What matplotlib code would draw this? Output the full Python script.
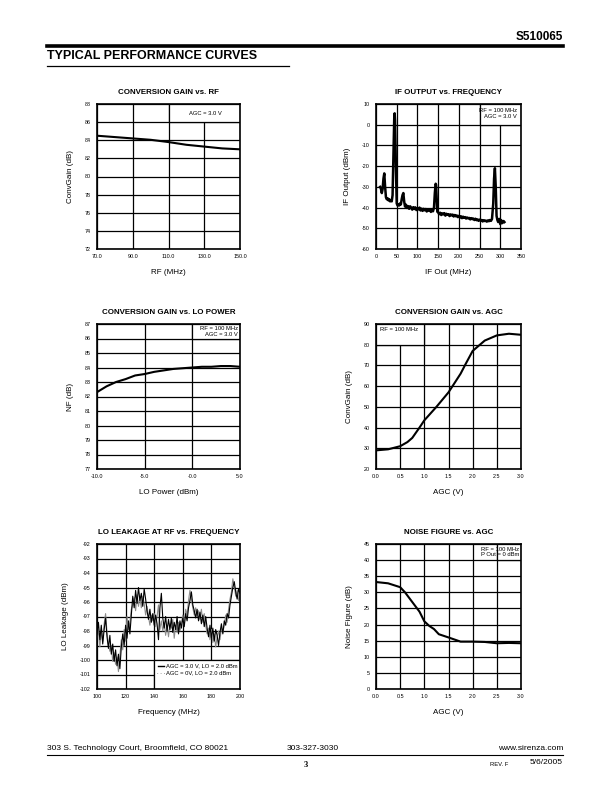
import matplotlib
matplotlib.use("Agg")
import matplotlib.pyplot as plt
import numpy as np
from matplotlib.patches import Rectangle
from matplotlib.lines import Line2D

plt.rcParams['font.family'] = ['Liberation Sans', 'DejaVu Sans']

# ---------------- data ----------------
# Chart 1: Conversion gain vs RF
rf_mhz = [70, 80, 90, 100, 110, 120, 130, 140, 150]
gain_rf = [84.5, 84.35, 84.2, 84.05, 83.8, 83.5, 83.3, 83.1, 83.0]

# Chart 2: IF output vs frequency (trace read in segments)
if_freq_a = [10, 12, 14, 16, 18, 20, 22, 24, 26, 28, 30, 32, 34, 36, 38, 40, 42, 44, 45, 46,
             48, 50, 52, 54, 56, 58, 60, 62, 64, 66, 68]
if_out_a = [-30, -31, -33, -31, -26, -23.5, -30, -35, -36, -35.5, -36.5, -36, -37, -36.5, -37, -34, -15, 3, 5.5, 2,
            -20, -38, -39, -38.5, -39, -38, -38.5, -36, -34, -33, -37]
if_freq_b = list(np.arange(70, 138, 2.5))
if_out_b = [-39.5, -38.6, -40.2, -39.3, -40.6, -39.4, -40.1, -41.0, -39.8, -40.7,
            -39.9, -41.2, -40.3, -40.9, -40.0, -41.4, -40.5, -41.6, -40.6, -41.3,
            -40.7, -41.9, -40.9, -41.5, -41.0, -42.1, -41.2, -41.8]
if_freq_c = [140, 142, 144, 145, 146, 148]
if_out_c = [-40, -33, -28.5, -29, -33, -42]
if_freq_d = list(np.arange(150, 281, 2.5))
if_out_d = [-42.3, -43.2, -42.5, -43.6, -42.8, -43.3, -42.7, -43.9, -43.0, -43.5,
            -43.2, -44.1, -43.3, -43.8, -43.4, -44.3, -43.6, -44.2, -43.8, -44.6,
            -44.0, -44.8, -44.2, -45.1, -44.4, -44.9, -44.6, -45.3, -44.8, -45.2,
            -45.0, -45.7, -45.1, -45.6, -45.3, -46.0, -45.4, -46.1, -45.7, -46.4,
            -45.8, -46.2, -46.0, -46.7, -46.1, -46.5, -46.3, -46.8, -46.2, -46.6,
            -46.0, -46.4, -45.5]
if_freq_e = [283, 285, 287, 289, 291, 293, 295, 298, 300, 302, 305, 308, 310]
if_out_e = [-38, -26, -21, -30, -44, -46, -47, -45.5, -48, -46, -47.5, -46.5, -47]

# Chart 3: Conversion gain vs LO power
lo_power = [-10, -9, -8, -7, -6, -5, -4, -3, -2, -1, 0, 1, 2, 3, 4, 5]
gain_lo = [82.3, 82.7, 83.0, 83.2, 83.45, 83.55, 83.7, 83.8, 83.9, 83.95, 84.0, 84.05, 84.05, 84.1, 84.1, 84.05]

# Chart 4: Conversion gain vs AGC
agc_v = [0.0, 0.25, 0.5, 0.65, 0.75, 0.9, 1.0, 1.25, 1.5, 1.75, 1.85, 2.0, 2.25, 2.5, 2.75, 3.0]
gain_agc = [29.0, 29.5, 31.0, 33.0, 35.0, 40.0, 43.5, 50.0, 57.0, 66.0, 70.5, 77.0, 82.0, 84.5, 85.3, 84.8]

# Chart 5: LO leakage at RF vs frequency
leak_freq = list(range(100, 201))
leak_agc3 = [-98.2, -97.4, -98.6, -97.6, -98.9, -97.9, -97.1, -98.4, -99.2, -98.3,
             -99.6, -98.9, -100.1, -99.3, -100.4, -99.6, -100.6, -99.1, -98.2, -99.0,
             -97.6, -98.5, -97.3, -98.2, -96.9, -95.6, -96.4, -95.2, -96.1, -95.0,
             -95.9, -95.4, -96.3, -95.1, -95.8, -96.6, -97.2, -96.5, -97.4, -96.8,
             -97.6, -96.9, -97.5, -98.6, -96.4, -95.4, -97.1, -97.8, -97.0, -98.0,
             -97.2, -97.9, -97.1, -98.1, -97.4, -97.9, -97.0, -98.2, -97.3, -97.8,
             -97.1, -97.7, -96.8, -97.3, -96.4, -95.9, -95.3, -96.2, -96.6, -97.1,
             -96.5, -97.3, -96.7, -97.5, -96.9, -97.7, -97.0, -97.8, -98.4, -97.6,
             -98.5, -97.8, -98.7, -97.9, -98.3, -99.0, -98.1, -97.5, -98.2, -97.3,
             -97.6, -96.8, -97.1, -96.2, -95.6, -95.0, -94.6, -95.3, -95.8, -95.1, -95.4]
leak_agc0 = [-98.6, -97.9, -99.1, -98.0, -98.7, -97.5, -96.8, -98.1, -98.9, -99.4,
             -99.0, -100.1, -99.5, -100.3, -99.8, -100.8, -99.7, -98.6, -99.3, -97.9,
             -98.7, -97.0, -97.9, -97.4, -96.5, -96.2, -95.7, -96.6, -95.5, -96.3,
             -95.7, -96.4, -95.6, -96.1, -96.9, -96.3, -97.0, -97.6, -96.9, -97.3,
             -96.8, -97.7, -97.0, -96.2, -97.9, -97.3, -98.0, -97.4, -98.3, -97.6,
             -98.4, -97.5, -97.8, -97.2, -98.5, -97.6, -98.1, -97.4, -98.0, -97.5,
             -96.9, -97.6, -96.5, -96.9, -95.9, -95.2, -95.8, -96.4, -96.9, -96.4,
             -97.0, -96.6, -97.2, -96.5, -97.4, -96.8, -97.6, -98.2, -97.8, -98.6,
             -97.9, -98.8, -98.2, -99.1, -98.4, -98.0, -98.6, -97.8, -98.1, -97.6,
             -96.9, -97.4, -96.5, -95.8, -95.3, -94.4, -94.9, -95.6, -95.2, -95.9, -95.6]

# Chart 6: Noise figure vs AGC
nf_agc = [0.0, 0.25, 0.5, 0.6, 0.75, 0.9, 1.0, 1.1, 1.2, 1.3, 1.5, 1.75, 2.0, 2.25, 2.5, 2.75, 3.0]
nf_db = [33.2, 32.8, 31.6, 30.0, 27.0, 24.0, 21.0, 19.6, 18.6, 17.0, 16.0, 14.7, 14.7, 14.6, 14.2, 14.3, 14.2]

# ---------------- figure ----------------
W, H = 612, 792
fig = plt.figure(figsize=(W / 100, H / 100), dpi=100)
fig.patch.set_facecolor('white')

TICK_FS = 3.9
LABEL_FS = 5.8
TITLE_FS = 5.7
NOTE_FS = 4.2


def fx(x):
    return x / W


def fy(y):
    return 1 - y / H


def make_ax(left, top, right, bottom):
    return fig.add_axes([fx(left), fy(bottom), (right - left) / W, (bottom - top) / H])


def style(ax, title, xlabel, ylabel, xlim, ylim, xticks, yticks, xfmt, yfmt):
    ax.set_xlim(*xlim)
    ax.set_ylim(*ylim)
    ax.set_xticks(xticks)
    ax.set_yticks(yticks)
    ax.set_xticklabels([xfmt(v) for v in xticks], fontsize=TICK_FS)
    ax.set_yticklabels([yfmt(v) for v in yticks], fontsize=TICK_FS)
    ax.tick_params(axis='x', length=0, pad=3.5)
    ax.tick_params(axis='y', length=0, pad=4.5)
    ax.set_axisbelow(True)
    ax.grid(True, color='black', lw=0.9)
    for s in ax.spines.values():
        s.set_linewidth(1.2)
        s.set_color('black')
    ax.set_title(title, fontsize=TITLE_FS, fontweight='bold', pad=7)
    ax.set_xlabel(xlabel, fontsize=LABEL_FS, labelpad=7)
    ax.set_ylabel(ylabel, fontsize=LABEL_FS, labelpad=8)


def box(ax, x0, y0, x1, y1):
    ax.add_patch(Rectangle((x0, y0), x1 - x0, y1 - y0, facecolor='white',
                           edgecolor='black', lw=0.9, zorder=1))


f1 = lambda v: f"{v:.1f}"
fi = lambda v: f"{int(v)}"

# Chart 1
ax1 = make_ax(97, 104, 240, 249)
style(ax1, "CONVERSION GAIN vs. RF", "RF (MHz)", "ConvGain (dB)", (70, 150), (72, 88),
      [70, 90, 110, 130, 150], list(range(72, 89, 2)), f1, fi)
box(ax1, 110, 86, 150, 88)
ax1.text(0.76, 0.935, "AGC = 3.0 V", transform=ax1.transAxes, fontsize=NOTE_FS, ha='center', va='center', zorder=3)
ax1.plot(rf_mhz, gain_rf, color='black', lw=1.5, zorder=2)

# Chart 2
ax2 = make_ax(376, 104, 521, 249)
style(ax2, "IF OUTPUT vs. FREQUENCY", "IF Out (MHz)", "IF Output (dBm)", (0, 350), (-60, 10),
      list(range(0, 351, 50)), list(range(-60, 11, 10)), fi, fi)
box(ax2, 250, 0, 350, 10)
ax2.text(0.97, 0.935, "RF = 100 MHz\nAGC = 3.0 V", transform=ax2.transAxes, fontsize=NOTE_FS,
         ha='right', va='center', zorder=3, linespacing=1.2)
if_freq = if_freq_a + if_freq_b + if_freq_c + if_freq_d + if_freq_e
if_out = if_out_a + if_out_b + if_out_c + if_out_d + if_out_e
ax2.plot(if_freq, if_out, color='black', lw=1.8, zorder=2)

# Chart 3
ax3 = make_ax(97, 324, 240, 469)
style(ax3, "CONVERSION GAIN vs. LO POWER", "LO Power (dBm)", "NF (dB)", (-10, 5), (77, 87),
      [-10, -5, 0, 5], list(range(77, 88)), lambda v: "-0.0" if v == 0 else f"{v:.1f}", fi)
box(ax3, 0, 86, 5, 87)
ax3.text(0.985, 0.95, "RF = 100 MHz\nAGC = 3.0 V", transform=ax3.transAxes, fontsize=NOTE_FS,
         ha='right', va='center', zorder=3, linespacing=1.15)
ax3.plot(lo_power, gain_lo, color='black', lw=1.5, zorder=2)

# Chart 4
ax4 = make_ax(376, 324, 521, 469)
style(ax4, "CONVERSION GAIN vs. AGC", "AGC (V)", "ConvGain (dB)", (0, 3), (20, 90),
      [0, 0.5, 1.0, 1.5, 2.0, 2.5, 3.0], list(range(20, 91, 10)), f1, fi)
box(ax4, 0, 80, 1.0, 90)
ax4.text(0.03, 0.96, "RF = 100 MHz", transform=ax4.transAxes, fontsize=NOTE_FS,
         ha='left', va='center', zorder=3)
ax4.plot(agc_v, gain_agc, color='black', lw=1.5, zorder=2)

# Chart 5
ax5 = make_ax(97, 544, 240, 689)
style(ax5, "LO LEAKAGE AT RF vs. FREQUENCY", "Frequency (MHz)", "LO Leakage (dBm)", (100, 200), (-102, -92),
      list(range(100, 201, 20)), list(range(-102, -91)), fi, fi)
ax5.plot(leak_freq, leak_agc0, color='#8c8c8c', lw=0.8, zorder=2)
ax5.plot(leak_freq, leak_agc3, color='black', lw=0.8, zorder=2)
box(ax5, 140, -102, 200, -100)
ax5.plot([142.5, 147.2], [-100.4, -100.4], color='black', lw=1.0, zorder=3)
ax5.text(148.6, -100.4, "AGC = 3.0 V, LO = 2.0 dBm", fontsize=NOTE_FS, ha='left', va='center', zorder=3)
ax5.text(142.3, -100.85, ". . .", fontsize=NOTE_FS, ha='left', va='center', zorder=3)
ax5.text(148.6, -100.85, "AGC = 0V, LO = 2.0 dBm", fontsize=NOTE_FS, ha='left', va='center', zorder=3)

# Chart 6
ax6 = make_ax(376, 544, 521, 689)
style(ax6, "NOISE FIGURE vs. AGC", "AGC (V)", "Noise Figure (dB)", (0, 3), (0, 45),
      [0, 0.5, 1.0, 1.5, 2.0, 2.5, 3.0], list(range(0, 46, 5)), f1, fi)
box(ax6, 2.5, 40, 3.0, 45)
ax6.text(0.985, 0.945, "RF = 100 MHz\nP Out = 0 dBm", transform=ax6.transAxes, fontsize=NOTE_FS,
         ha='right', va='center', zorder=3, linespacing=1.15)
ax6.plot(nf_agc, nf_db, color='black', lw=1.5, zorder=2)

# ---------------- page header / footer ----------------
fig.text(fx(563), fy(37.5), "S510065", fontsize=8.5, fontweight='bold', ha='right', va='center')
fig.add_artist(Line2D([fx(47), fx(563)], [fy(46), fy(46)], color='black', lw=2.6))
fig.text(fx(47), fy(56), "TYPICAL PERFORMANCE CURVES", fontsize=9, fontweight='bold', ha='left', va='center')
fig.add_artist(Line2D([fx(47), fx(289)], [fy(65.5), fy(65.5)], color='black', lw=0.9))

fig.text(fx(47), fy(748), "303 S. Technology Court, Broomfield, CO 80021", fontsize=6, ha='left', va='center')
fig.text(fx(287), fy(748), "303-327-3030", fontsize=6, ha='left', va='center')
fig.text(fx(563), fy(748), "www.sirenza.com", fontsize=6, ha='right', va='center')
fig.add_artist(Line2D([fx(47), fx(563)], [fy(755), fy(755)], color='black', lw=0.8))
fig.text(fx(306), fy(765), "3", fontsize=6, fontweight='bold', family=['Liberation Serif', 'DejaVu Serif'],
         ha='center', va='center')
fig.text(fx(490), fy(764), "REV. F", fontsize=4.2, ha='left', va='center')
fig.text(fx(563), fy(763), "5/6/2005", fontsize=6, ha='right', va='center')

fig.savefig("out.png", dpi=100, facecolor='white')
